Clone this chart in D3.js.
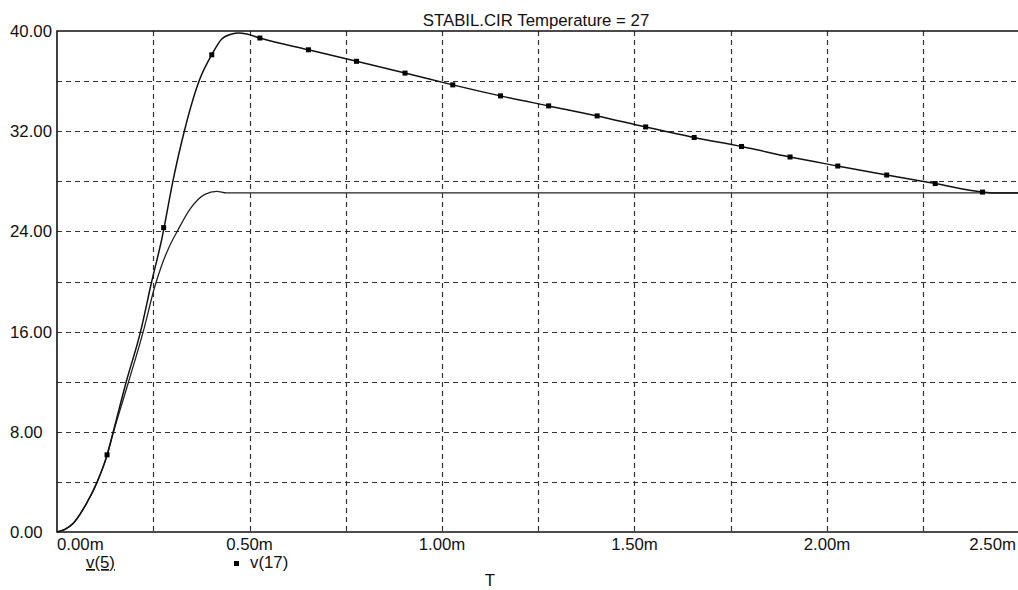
<!DOCTYPE html>
<html>
<head>
<meta charset="utf-8">
<script src="https://cdn.jsdelivr.net/npm/d3@7"></script>
<style>
  html, body { margin: 0; padding: 0; background: #fff; }
  svg { display: block; }
  text { font-family: Arial, "Liberation Sans", sans-serif; font-size: 16.8px; fill: #111; }
</style>
</head>
<body>
<svg id="chart" width="1018" height="590"></svg>
<script>
// time in ms, voltage in V
const v5Time = [0, 0.02, 0.042, 0.077, 0.103, 0.13, 0.146, 0.185, 0.224, 0.255, 0.272, 0.289, 0.315, 0.345, 0.384, 0.415, 0.44, 2.5];
const v5Vals = [0, 0.2, 0.69, 2.3, 3.9, 6.1, 7.9, 11.9, 16, 19.7, 21.3, 22.6, 24.16, 25.76, 26.96, 27.2, 27.07, 27.07];

const v17Time = [0, 0.02, 0.042, 0.077, 0.103, 0.13, 0.146, 0.179, 0.217, 0.246, 0.272, 0.302, 0.332, 0.371, 0.402, 0.428, 0.454, 0.471, 0.493, 0.527,
  0.653, 0.778, 0.904, 1.028, 1.152, 1.277, 1.403, 1.529, 1.655, 1.778, 1.904, 2.028, 2.155, 2.281, 2.404, 2.43, 2.5];
const v17Vals = [0, 0.2, 0.69, 2.3, 3.9, 6.16, 8.0, 11.9, 16, 20, 23.36, 28.16, 32.16, 36.16, 38.1, 39.36, 39.76, 39.84, 39.76, 39.44,
  38.5, 37.58, 36.64, 35.7, 34.82, 34.02, 33.22, 32.34, 31.5, 30.78, 29.94, 29.22, 28.5, 27.82, 27.14, 27.07, 27.07];

// marker positions on v(17)
const markerTime = [0.13, 0.277, 0.402, 0.527, 0.653, 0.778, 0.904, 1.028, 1.152, 1.277, 1.403, 1.529, 1.655, 1.778, 1.904, 2.028, 2.155, 2.281, 2.404];
const markerVals = [6.16, 24.3, 38.1, 39.44, 38.5, 37.58, 36.64, 35.7, 34.82, 34.02, 33.22, 32.34, 31.5, 30.78, 29.94, 29.22, 28.5, 27.82, 27.14];

const yLabels = [0, 8, 16, 24, 32, 40];
const yGrid = [4, 8, 12, 16, 20, 24, 28, 32, 36];
const xLabels = [0, 0.5, 1.0, 1.5, 2.0, 2.5];
const xGrid = [0.25, 0.5, 0.75, 1.0, 1.25, 1.5, 1.75, 2.0, 2.25];

const title = "STABIL.CIR Temperature = 27";

const svg = d3.select("#chart");
const W = 1018;

const x = d3.scaleLinear().domain([0, 2.5]).range([57, 1019.5]);
const y = d3.scaleLinear().domain([0, 40]).range([532, 31]);

// grid
svg.append("g").selectAll("line")
  .data(yGrid).enter().append("line")
  .attr("x1", x(0)).attr("x2", W)
  .attr("y1", d => Math.round(y(d)) + 0.5).attr("y2", d => Math.round(y(d)) + 0.5)
  .attr("stroke", "#333").attr("stroke-width", 1.2).attr("stroke-dasharray", "5,4");

svg.append("g").selectAll("line")
  .data(xGrid).enter().append("line")
  .attr("x1", d => Math.round(x(d)) + 0.5).attr("x2", d => Math.round(x(d)) + 0.5)
  .attr("y1", y(40)).attr("y2", y(0))
  .attr("stroke", "#333").attr("stroke-width", 1.2).attr("stroke-dasharray", "5,4");

// frame
svg.append("path")
  .attr("d", `M${W},${y(40)}H${x(0)}V${y(0)}H${W}`)
  .attr("fill", "none").attr("stroke", "#111").attr("stroke-width", 1.6);

// curves
const line = d3.line()
  .x(d => x(d[0])).y(d => y(d[1]))
  .curve(d3.curveMonotoneX);

svg.append("path")
  .datum(d3.zip(v5Time, v5Vals))
  .attr("d", line)
  .attr("fill", "none").attr("stroke", "#222").attr("stroke-width", 1.3);

svg.append("path")
  .datum(d3.zip(v17Time, v17Vals))
  .attr("d", line)
  .attr("fill", "none").attr("stroke", "#111").attr("stroke-width", 1.5);

svg.append("g").selectAll("rect")
  .data(d3.zip(markerTime, markerVals)).enter().append("rect")
  .attr("x", d => x(d[0]) - 2.5).attr("y", d => y(d[1]) - 2.5)
  .attr("width", 5).attr("height", 5)
  .attr("fill", "#000");

// y labels (left aligned)
svg.append("g").selectAll("text")
  .data(yLabels).enter().append("text")
  .attr("x", 10).attr("y", d => y(d))
  .attr("dy", "0.36em")
  .text(d => d.toFixed(2));

// x labels
svg.append("g").selectAll("text")
  .data(xLabels).enter().append("text")
  .attr("x", (d, i) => i === xLabels.length - 1 ? W - 2 : x(d))
  .attr("y", 550)
  .attr("text-anchor", (d, i) => i === 0 ? "start" : (i === xLabels.length - 1 ? "end" : "middle"))
  .text(d => d.toFixed(2) + "m");

// title
svg.append("text")
  .attr("x", 536).attr("y", 26)
  .attr("text-anchor", "middle")
  .text(title);

// legend
svg.append("text")
  .attr("x", 86).attr("y", 568)
  .attr("text-decoration", "underline")
  .text("v(5)");

svg.append("rect")
  .attr("x", 234).attr("y", 561).attr("width", 5).attr("height", 5)
  .attr("fill", "#000");
svg.append("text")
  .attr("x", 250).attr("y", 568)
  .text("v(17)");

svg.append("text")
  .attr("x", 490).attr("y", 586)
  .attr("text-anchor", "middle")
  .text("T");
</script>
</body>
</html>
